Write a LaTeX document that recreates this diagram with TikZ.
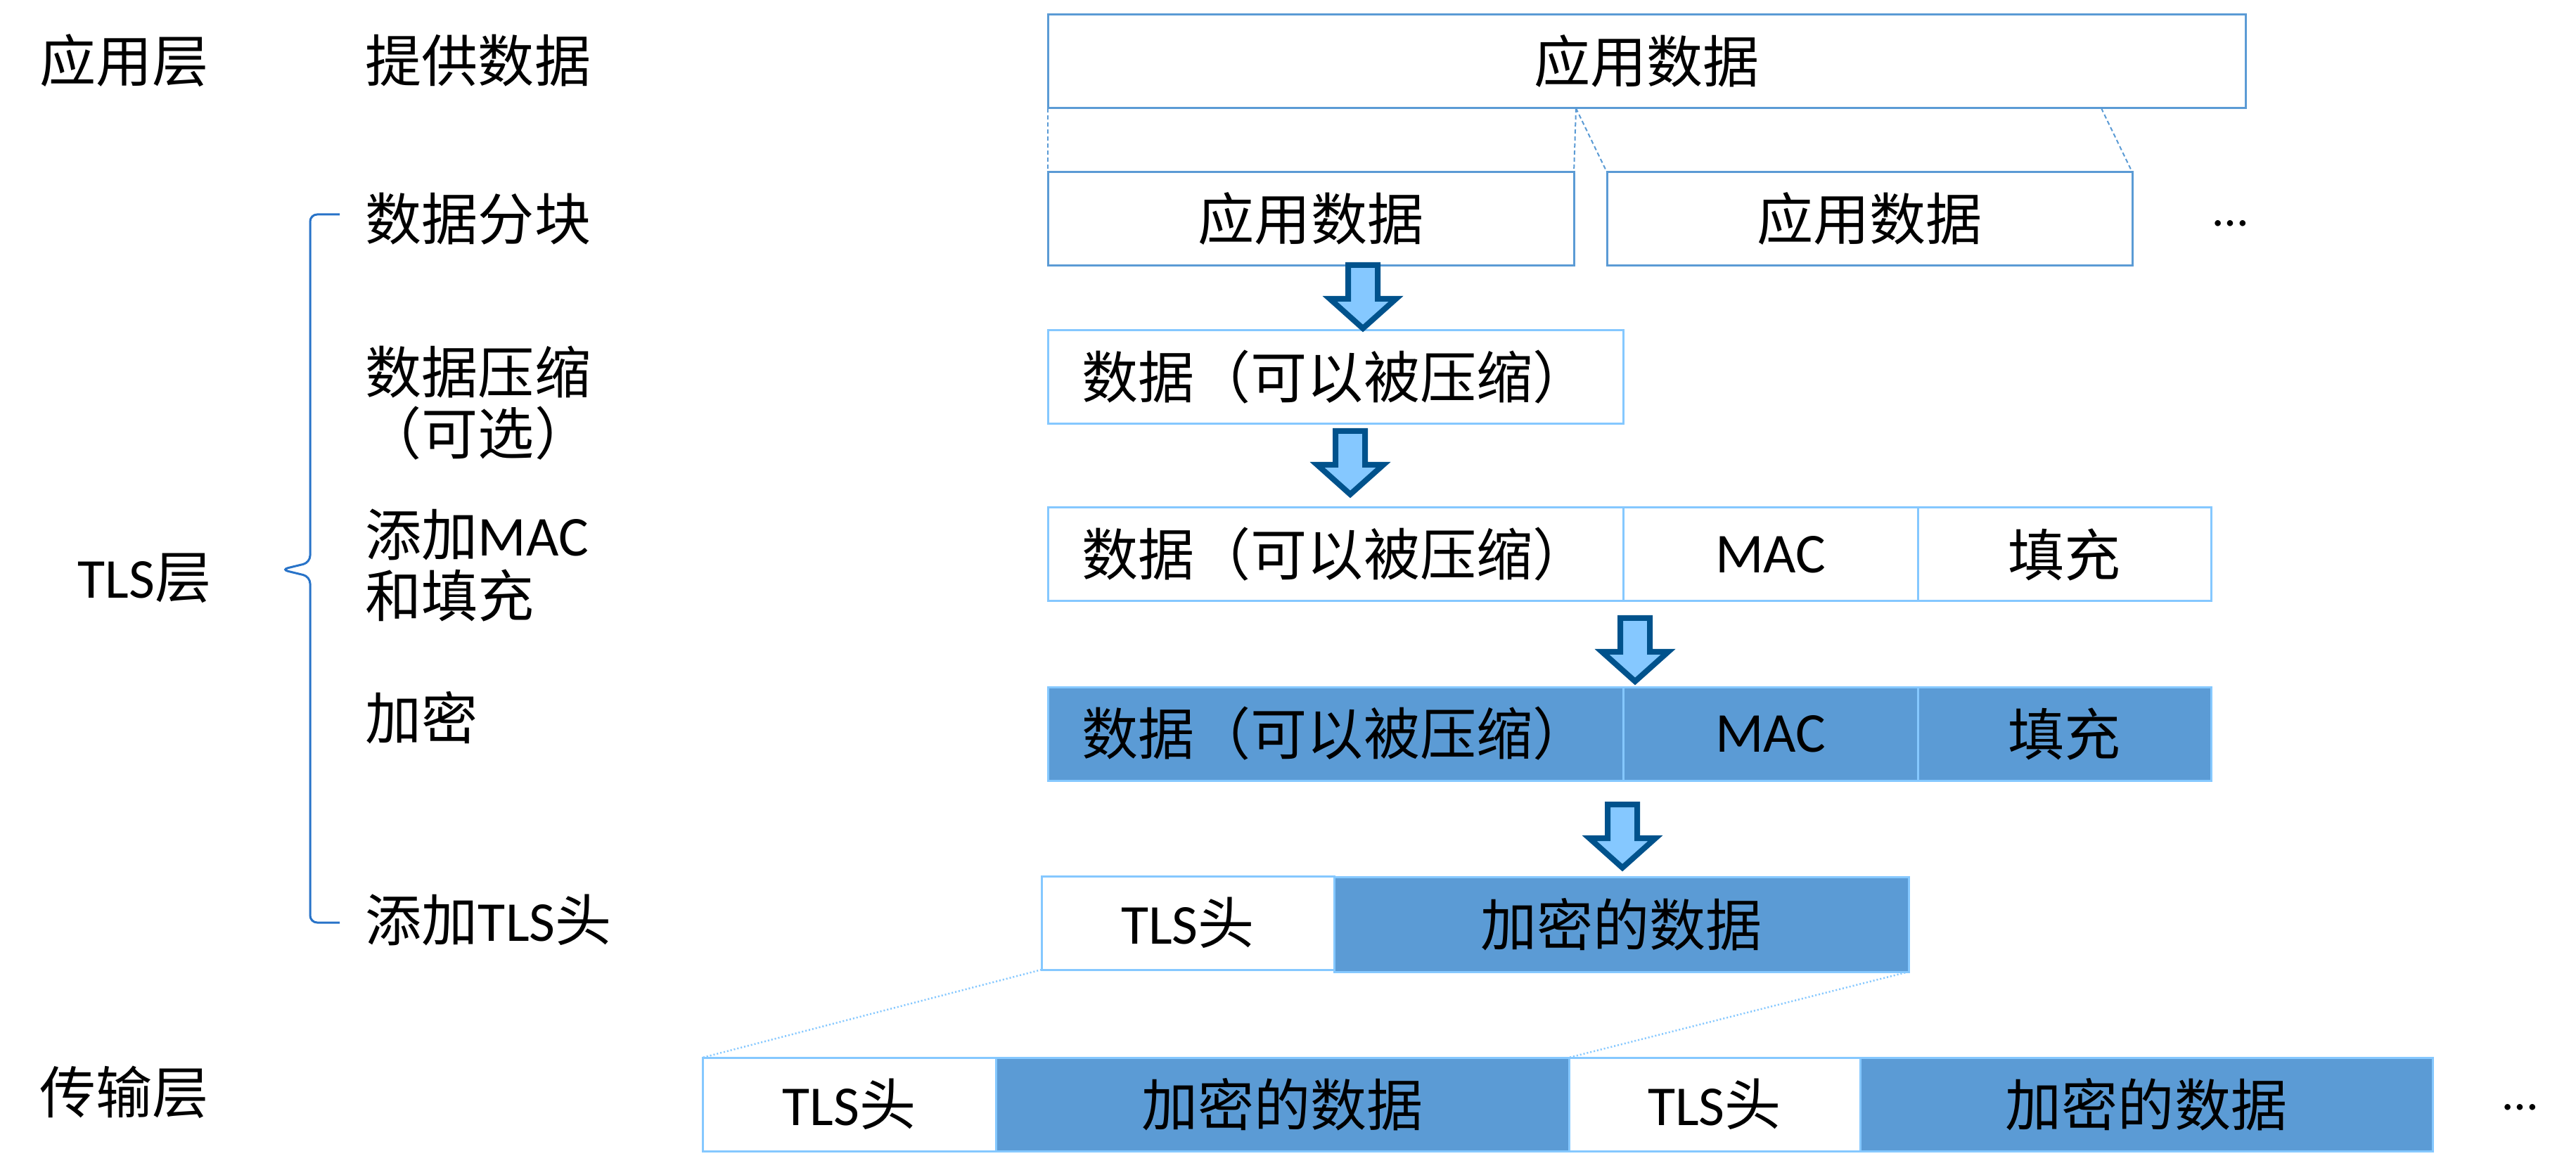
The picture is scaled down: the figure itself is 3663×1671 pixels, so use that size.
\documentclass[tikz,border=0pt]{standalone}
\usepackage{fontspec}
\setmainfont{Noto Sans CJK SC}
\newfontfamily\carl{Carlito}
\definecolor{mb}{RGB}{91,155,213}
\definecolor{lb}{RGB}{133,200,255}
\definecolor{encf}{RGB}{91,155,213}
\definecolor{arrf}{RGB}{133,200,255}
\definecolor{arrd}{RGB}{0,82,140}
\definecolor{brc}{RGB}{40,115,200}
\newcommand\bigtxt{\fontsize{22.8pt}{24.75pt}\selectfont}
\tikzset{
  cellbase/.style={line width=0.3mm, inner sep=0pt, outer sep=0pt, anchor=north west, font=\bigtxt, minimum height=13.3mm},
  cellm/.style={cellbase, draw=mb, fill=white},
  celll/.style={cellbase, draw=lb, fill=white},
  celle/.style={cellbase, draw=lb, fill=encf},
  lbl/.style={anchor=west, inner sep=0pt, font=\bigtxt, align=left},
  bigarr/.style={fill=arrf, draw=arrd, line width=0.8mm, line join=miter},
  split/.style={draw=mb, line width=0.2mm, dash pattern=on 0.6mm off 0.4mm},
  dotl/.style={draw=lb, line width=0.25mm, dash pattern=on 0.2mm off 0.3mm},
  bracel/.style={draw=brc, line width=0.3mm, rounded corners=1mm}
}
\newcommand\dnarrow[2]{%
  \path[bigarr] ({#1-21},{#2+4}) -- ({#1+21},{#2+4}) -- ({#1+21},{#2+52}) -- ({#1+47},{#2+52}) -- ({#1},{#2+94}) -- ({#1-47},{#2+52}) -- ({#1-21},{#2+52}) -- cycle;}
\begin{document}
\begin{tikzpicture}[x=0.1mm,y=-0.1mm]
\useasboundingbox[fill=white] (0,0) rectangle (3663,1671);

% left labels
\node[lbl] (appL) at (56,86) {应用层};
\node[lbl] (tlsL) at (110,822) {{\carl TLS}层};
\node[lbl] (trL) at (56,1553) {传输层};
\node[lbl] (s0) at (519,86) {提供数据};
\node[lbl] (s1) at (519,311) {数据分块};
\node[lbl] (s2) at (519,573) {数据压缩\\（可选）};
\node[lbl] (s3) at (519,804) {添加{\carl MAC}\\和填充};
\node[lbl] (s4) at (519,1021) {加密};
\node[lbl] (s5) at (519,1308) {添加{\carl TLS}头};

% brace
\draw[bracel] (483,305) -- (441,305) -- (441,800) -- (400,810) -- (441,820) -- (441,1312) -- (483,1312);

% application data
\node[cellm, minimum width=170.3mm] (top) at (1490,21) {应用数据};
\node[cellm, minimum width=74.8mm] (b1) at (1490,245) {应用数据};
\node[cellm, minimum width=74.7mm] (b2) at (2285,245) {应用数据};
\node[anchor=center, inner sep=0pt, font=\fontsize{20pt}{22pt}\selectfont\carl] (dots1) at (3172,318) {…};

\coordinate (sp1) at (2241,154);
\coordinate (sp2) at (2988,154);
\draw[split] (top.south west) -- (b1.north west);
\draw[split] (sp1) -- (b1.north east);
\draw[split] (sp1) -- (b2.north west);
\draw[split] (sp2) -- (b2.north east);

% compression
\node[celll, minimum width=81.8mm] (cmp) at (1490,470) {数据（可以被压缩）};

% MAC row
\node[celll, minimum width=81.8mm] (m1) at (1490,722) {数据（可以被压缩）};
\node[celll, minimum width=41.9mm] (m2) at (2308,722) {\carl MAC};
\node[celll, minimum width=41.7mm] (m3) at (2727,722) {填充};

% encrypted row
\node[celle, minimum width=81.8mm] (e1) at (1490,977) {数据（可以被压缩）};
\node[celle, minimum width=41.9mm] (e2) at (2308,977) {\carl MAC};
\node[celle, minimum width=41.7mm] (e3) at (2727,977) {填充};

% TLS record
\node[celll, minimum width=41.6mm] (th) at (1481,1246) {{\carl TLS}头};
\node[celle, minimum width=81.7mm, minimum height=13.5mm] (td) at (1897,1247) {加密的数据};

% transport
\node[celll, minimum width=41.7mm] (r1) at (999,1504) {{\carl TLS}头};
\node[celle, minimum width=81.5mm] (r2) at (1416,1504) {加密的数据};
\node[celll, minimum width=41.4mm] (r3) at (2231,1504) {{\carl TLS}头};
\node[celle, minimum width=81.4mm] (r4) at (2645,1504) {加密的数据};
\node[anchor=center, inner sep=0pt, font=\fontsize{20pt}{22pt}\selectfont\carl] (dots2) at (3584,1575) {…};

\draw[dotl] (th.south west) -- (r1.north west);
\draw[dotl] (td.south east) -- (r3.north west);

% arrows
\dnarrow{1938}{373}
\dnarrow{1920}{609}
\dnarrow{2325}{875}
\dnarrow{2307}{1140}
\end{tikzpicture}
\end{document}
